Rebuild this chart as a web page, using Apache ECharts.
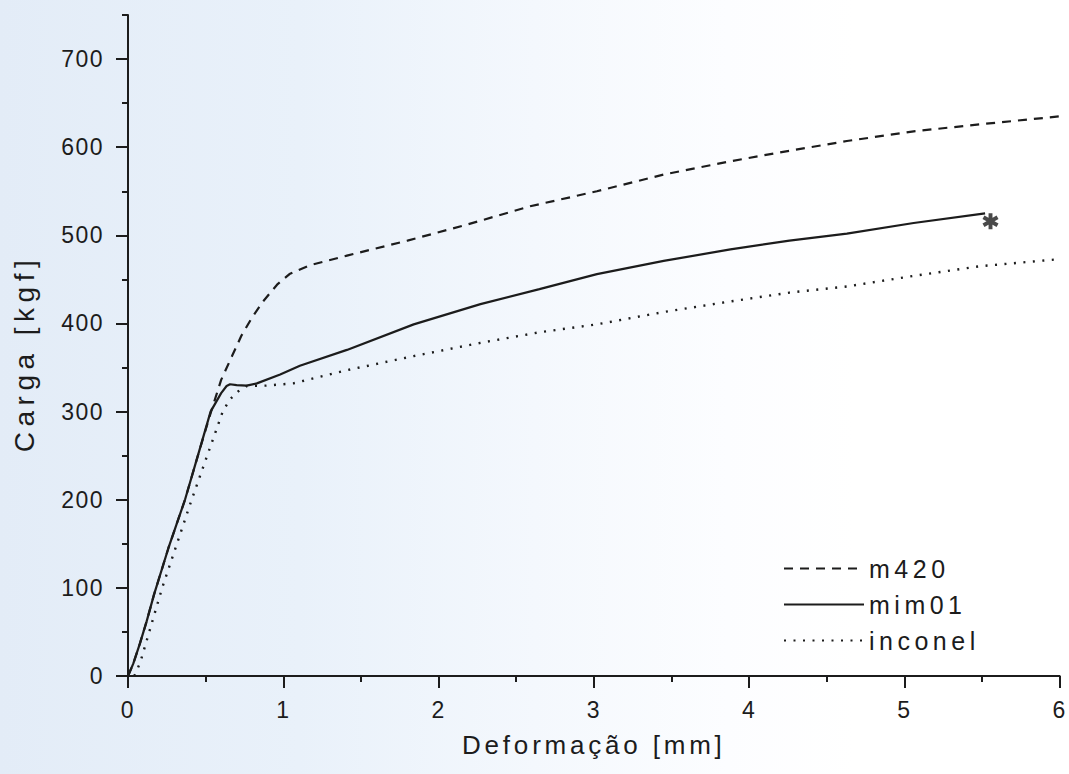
<!DOCTYPE html>
<html>
<head>
<meta charset="utf-8">
<script src="https://cdn.jsdelivr.net/npm/echarts@6/dist/echarts.min.js"></script>
<style>
html, body { margin: 0; padding: 0; background: #ffffff; }
#chart {
  width: 1069px; height: 774px;
  background: linear-gradient(90deg, #e3ecf7 0%, #e9f1fa 28%, #f4f8fd 50%, #fcfdff 68%, #ffffff 80%);
}
#chart text[style*="23px"] { letter-spacing: 1.5px; }
#chart text[style*="25px"] { letter-spacing: 4.5px; }
#chart text[style*="26px"] { letter-spacing: 3.8px; }
#chart text[style*="28px"] { letter-spacing: 5.5px; }
</style>
</head>
<body>
<div id="chart"></div>
<script>
// ---- data (x = Deformação [mm], y = Carga [kgf]) ----
const seriesNames = ['m420', 'mim01', 'inconel'];

const m420 = [
  [0, 0], [0.034, 14], [0.077, 37], [0.12, 62], [0.167, 92], [0.26, 145],
  [0.367, 200], [0.45, 250], [0.535, 300], [0.60, 336], [0.67, 363], [0.73, 386],
  [0.80, 407], [0.87, 425], [0.96, 444], [1.04, 456], [1.17, 466], [1.41, 477],
  [1.80, 494], [2.18, 512], [2.59, 533], [3.02, 550], [3.45, 569], [3.88, 584],
  [4.26, 596], [4.63, 607], [5.06, 618], [5.49, 626], [6.0, 635]
];

const mim01 = [
  [0, 0], [0.034, 14], [0.077, 37], [0.12, 62], [0.167, 92], [0.26, 145],
  [0.367, 200], [0.45, 250], [0.532, 300], [0.60, 321], [0.635, 329], [0.657, 331],
  [0.70, 330], [0.764, 329.5], [0.83, 332], [0.98, 342], [1.107, 352], [1.41, 370],
  [1.84, 399], [2.27, 422], [2.65, 439], [3.02, 456], [3.45, 471], [3.88, 484],
  [4.26, 494], [4.63, 502], [5.06, 514], [5.52, 525]
];

const inconel = [
  [0.04, 0], [0.056, 6], [0.08, 16], [0.22, 100], [0.41, 200], [0.51, 250],
  [0.61, 300], [0.657, 314], [0.71, 323], [0.764, 329], [0.89, 329.5], [1.064, 332],
  [1.41, 347], [1.84, 363], [2.27, 378], [2.65, 390], [3.02, 399], [3.45, 413],
  [3.88, 425], [4.26, 435], [4.63, 442], [5.06, 454], [5.49, 465], [6.0, 473]
];

const rupturePoint = [[5.555, 516]];

const yTicks = [0, 100, 200, 300, 400, 500, 600, 700];
const xTicks = [0, 1, 2, 3, 4, 5, 6];
const xTitle = 'Deformação [mm]';
const yTitle = 'Carga [kgf]';

// ---- chart ----
const ink = '#1c1c1c';
const font = 'Liberation Sans, Arial, sans-serif';
const asterisk = 'path://M38,0L62,0L62,100L38,100Z' +
  'M87.3,14.6L99.3,35.4L12.7,85.4L0.7,64.6Z' +
  'M0.7,35.4L12.7,14.6L99.3,64.6L87.3,85.4Z';

const chart = echarts.init(document.getElementById('chart'), null, { renderer: 'svg' });

chart.setOption({
  animation: false,
  backgroundColor: 'transparent',
  textStyle: { fontFamily: font, color: ink },
  grid: { left: 128, right: 9, top: 15, bottom: 98, containLabel: false },
  legend: {
    data: seriesNames,
    orient: 'vertical',
    left: 778,
    top: 551,
    itemWidth: 80,
    itemHeight: 14,
    itemGap: 11,
    itemStyle: { color: 'rgba(0,0,0,0)', borderWidth: 0, opacity: 0 },
    textStyle: { fontSize: 25, color: ink, fontFamily: font },
    selectedMode: false
  },
  xAxis: {
    type: 'value',
    min: xTicks[0], max: xTicks[xTicks.length - 1], interval: 1,
    name: xTitle,
    nameLocation: 'middle',
    nameGap: 56,
    nameTextStyle: { fontSize: 26, color: ink, fontFamily: font },
    axisLine: { show: true, onZero: false, lineStyle: { color: ink, width: 2 } },
    axisTick: { show: true, inside: false, length: 12, lineStyle: { color: ink, width: 2 } },
    minorTick: { show: true, splitNumber: 2, length: 6, lineStyle: { color: ink, width: 2 } },
    axisLabel: { fontSize: 23, color: ink, margin: 22, fontFamily: font },
    splitLine: { show: false },
    minorSplitLine: { show: false }
  },
  yAxis: [
    {
      type: 'value',
      min: 0, max: 750, interval: 100,
      name: yTitle,
      nameLocation: 'middle',
      nameGap: 90,
      nameTextStyle: { fontSize: 28, color: ink, fontFamily: font, padding: [0, 16, 0, 0] },
      axisLine: { show: true, onZero: false, lineStyle: { color: ink, width: 2 } },
      axisTick: { show: true, length: 12, customValues: yTicks, lineStyle: { color: ink, width: 2 } },
      axisLabel: { fontSize: 23, color: ink, margin: 24, customValues: yTicks, fontFamily: font },
      splitLine: { show: false }
    },
    {
      type: 'value',
      min: 0, max: 750, interval: 50,
      position: 'left',
      axisLine: { show: false },
      axisTick: { show: true, length: 6, lineStyle: { color: ink, width: 2 } },
      axisLabel: { show: false },
      splitLine: { show: false }
    }
  ],
  series: [
    {
      name: seriesNames[0], type: 'line', data: m420, yAxisIndex: 0,
      showSymbol: false, symbol: 'none', smooth: false,
      lineStyle: { color: ink, width: 2.2, type: [9, 7] },
      itemStyle: { color: ink }
    },
    {
      name: seriesNames[1], type: 'line', data: mim01, yAxisIndex: 0,
      showSymbol: false, symbol: 'none', smooth: false,
      lineStyle: { color: ink, width: 2.2, type: 'solid' },
      itemStyle: { color: ink }
    },
    {
      name: seriesNames[2], type: 'line', data: inconel, yAxisIndex: 0,
      showSymbol: false, symbol: 'none', smooth: false,
      lineStyle: { color: ink, width: 2.4, type: [2, 7.5] },
      itemStyle: { color: ink }
    },
    {
      name: 'ruptura', type: 'scatter', data: rupturePoint, yAxisIndex: 0,
      symbol: asterisk, symbolSize: [16, 16],
      itemStyle: { color: ink }
    }
  ]
});
</script>
</body>
</html>
